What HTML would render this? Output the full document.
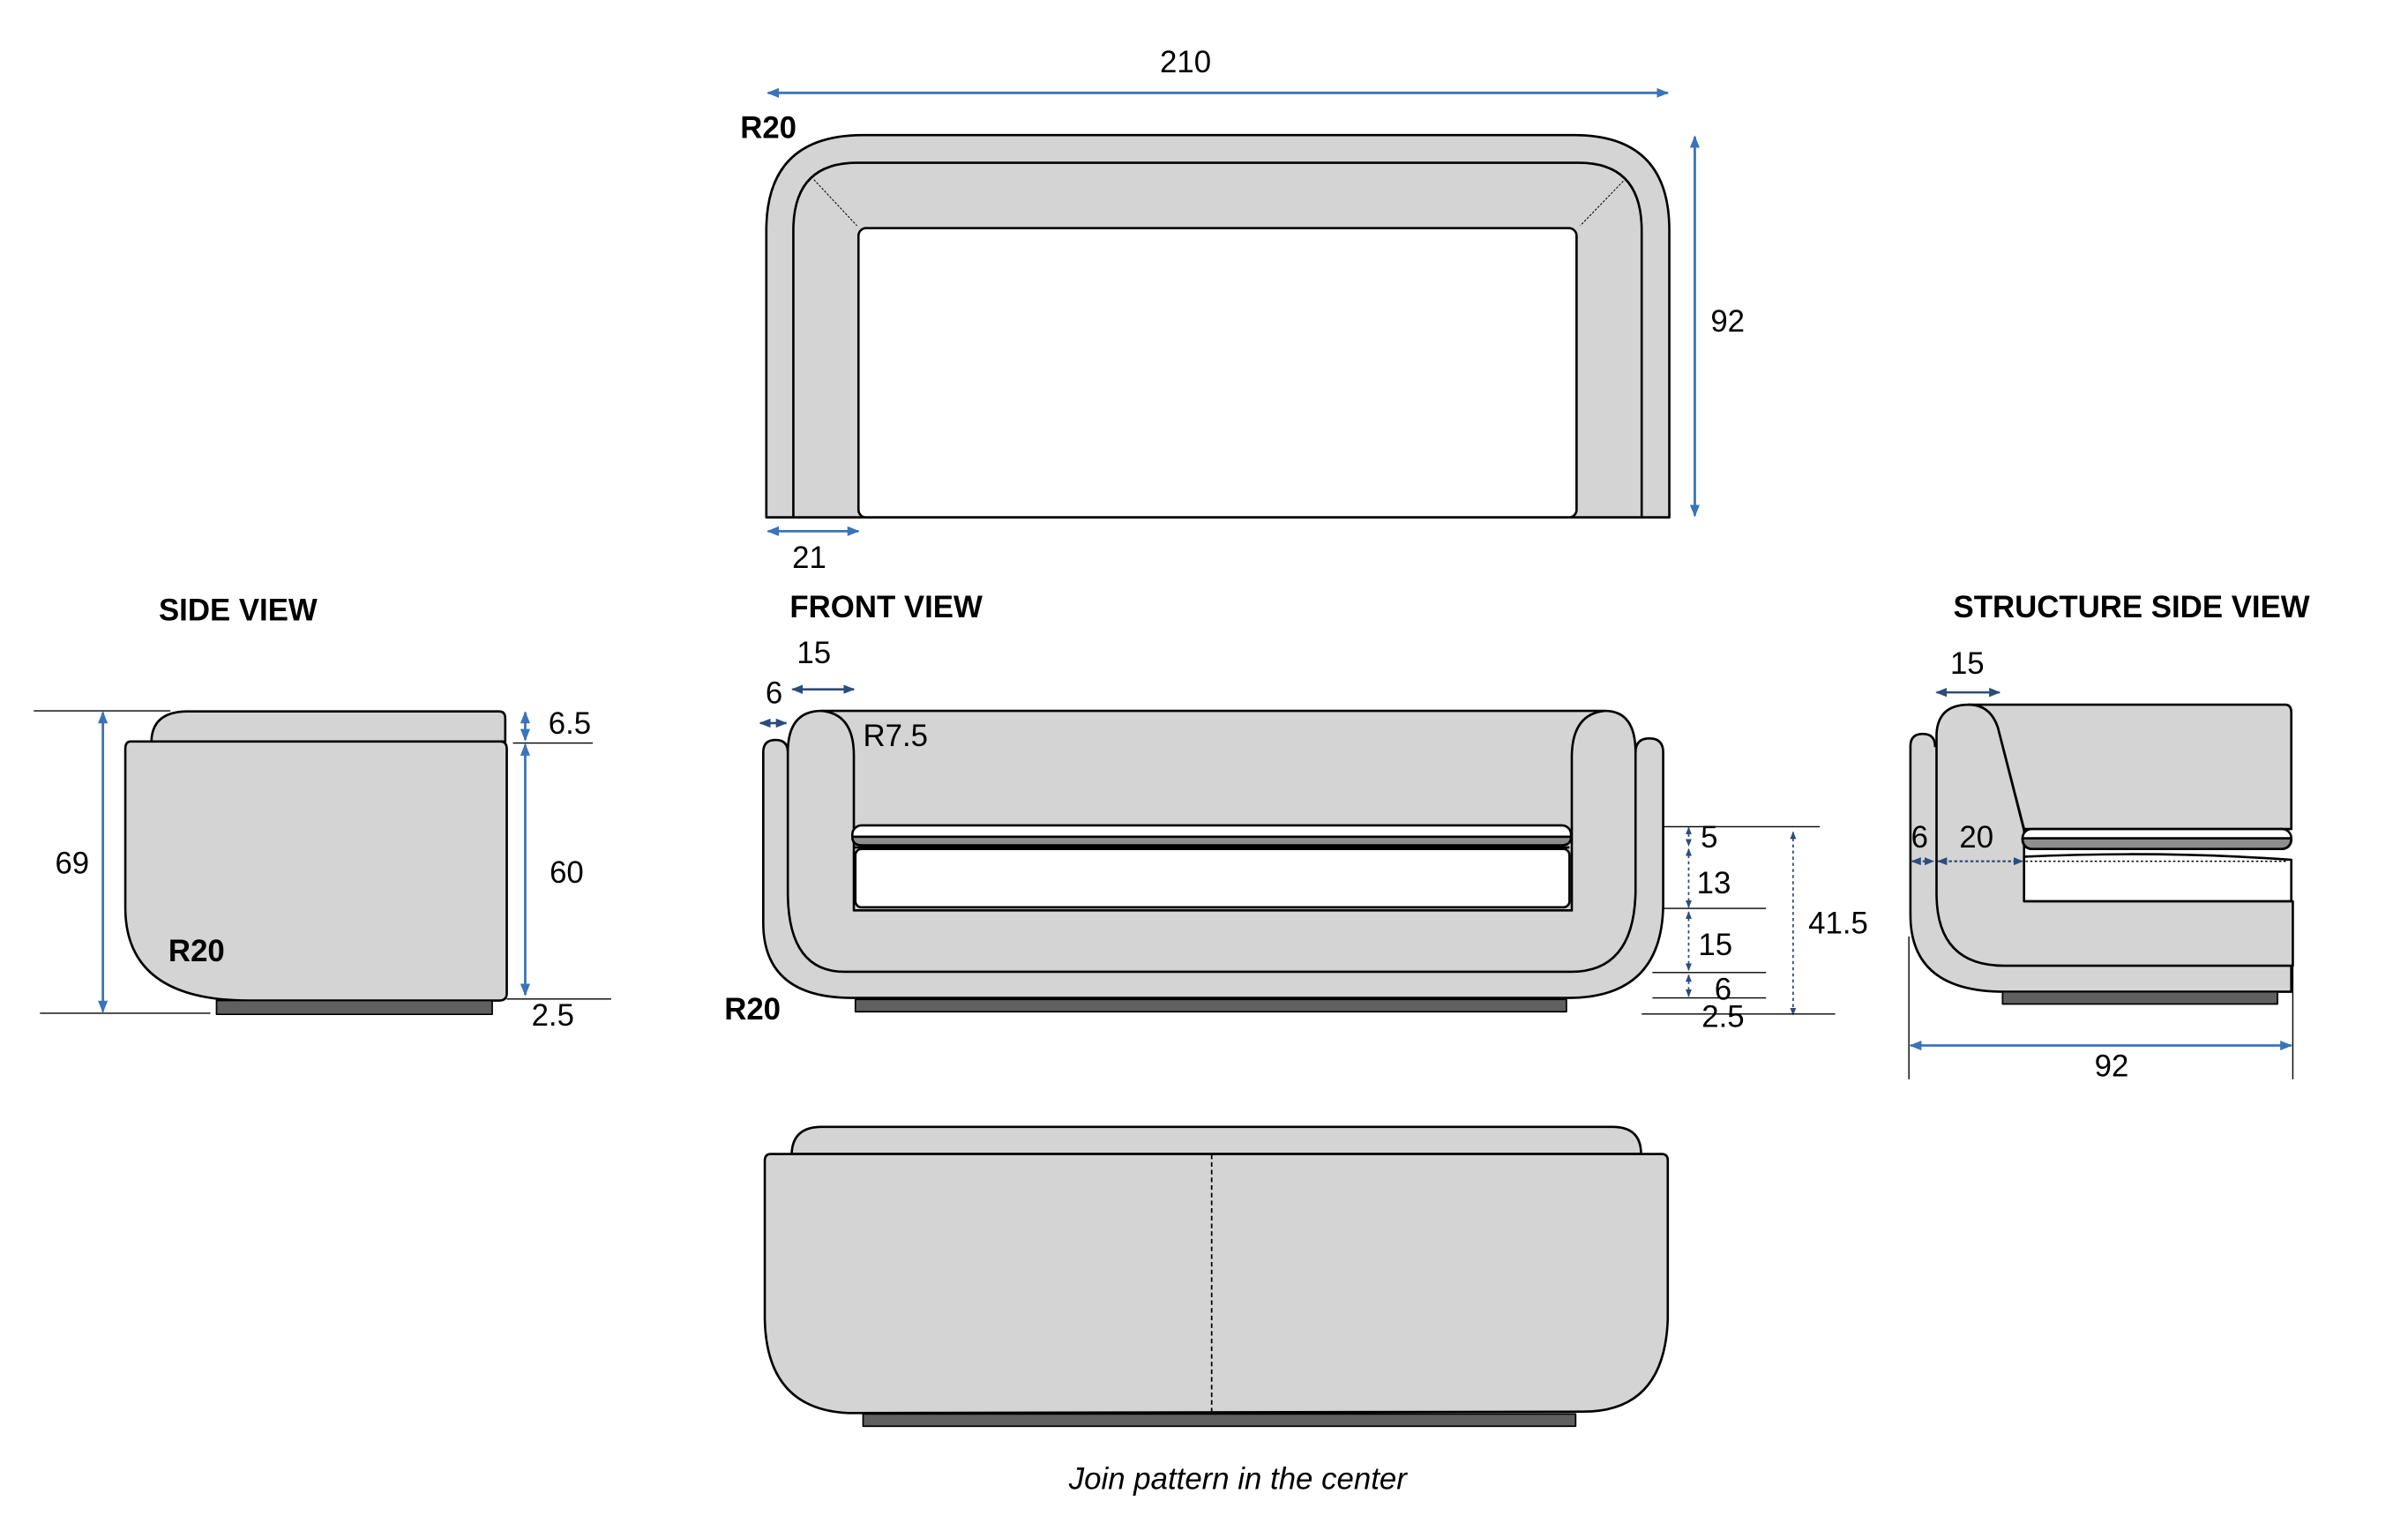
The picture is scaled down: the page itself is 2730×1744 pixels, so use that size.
<!DOCTYPE html>
<html><head><meta charset="utf-8"><style>
html,body{margin:0;padding:0;background:#fff;}
svg{display:block;}
text{font-family:"Liberation Sans",Arial,sans-serif;font-size:20px;fill:#000;}
.b{font-weight:bold;}
</style></head><body>
<svg width="2730" height="1744" viewBox="0 0 1568 1001.8" preserveAspectRatio="none" xmlns="http://www.w3.org/2000/svg">
<defs>
<marker id="a" viewBox="0 0 10 10" refX="9" refY="5" markerWidth="5" markerHeight="5" orient="auto-start-reverse"><path d="M0,1 L10,5 L0,9 Z" fill="#3a74b8"/></marker>
<marker id="n" viewBox="0 0 10 10" refX="9" refY="5" markerWidth="5" markerHeight="5" orient="auto-start-reverse"><path d="M0,1 L10,5 L0,9 Z" fill="#2c4c7c"/></marker>
</defs>
<g stroke="#000" stroke-width="1.5" stroke-linejoin="round">

<!-- TOP VIEW -->
<path d="M499,337 L499,150 Q499,88 562,88 L1025,88 Q1087,88 1087,150 L1087,337 Z" fill="#d4d4d4"/>
<path d="M516.6,337 L516.6,150 Q516.6,106 558,106 L1028,106 Q1069,106 1069,150 L1069,337 Z" fill="#d4d4d4"/>
<rect x="559" y="148.6" width="467.6" height="188.4" rx="5" fill="#fff"/>
<line x1="530" y1="117" x2="558" y2="147" stroke-width="0.6" stroke-dasharray="1.5,1"/>
<line x1="1057" y1="118" x2="1029" y2="147" stroke-width="0.6" stroke-dasharray="1.5,1"/>
<line x1="499" y1="337" x2="1087" y2="337"/>

<!-- SIDE VIEW -->
<path d="M98.6,483 Q99,464 121,463.4 L325,463.4 Q329,463.4 329,468 L329,483 Z" fill="#d4d4d4"/>
<path d="M85,483 L326,483 Q330,483 330,488 L330,647 Q330,651.7 325,651.7 L162,651.7 Q81.6,651.7 81.6,591 L81.6,488 Q81.6,483 85,483 Z" fill="#d4d4d4"/>
<rect x="141" y="651.7" width="179.5" height="9" fill="#606060" stroke-width="1"/>

<!-- FRONT VIEW -->
<path d="M497,490 Q497,482 505,482 Q513,482 513,490 L1065,490 Q1065,481 1074,481 Q1083,481 1083,490 L1083,590 Q1082,650 1021,650 L555,650 Q497,650 497,601 Z" fill="#d4d4d4"/>
<path d="M513,490 Q513,463 535,463 L1045,463 Q1065,463 1065,490 L1065,581 Q1064,633 1023,633 L550,633 Q513,633 513,581 Z" fill="#d4d4d4"/>
<path d="M535,463 Q556,465 556,492 L556,593 L1023.5,593 L1023.5,492 Q1024,465 1045,463" fill="none"/>
<rect x="555" y="537.6" width="468" height="13" rx="6" fill="#fff"/>
<path d="M555,545 L1023,545 Q1023,550.6 1017,550.6 L561,550.6 Q555,550.6 555,545 Z" fill="#8e8e8e"/>
<line x1="556" y1="552" x2="1022" y2="552"/>
<rect x="557" y="553" width="465" height="38" rx="4" fill="#fff"/>
<rect x="557" y="651" width="463" height="8" fill="#606060" stroke-width="1"/>

<!-- STRUCTURE SIDE VIEW -->
<path d="M1244,486 Q1244,478 1252,478 Q1260,478 1260,486 L1300,486 L1300,629 L1492,629 L1492,646 L1305,646 Q1244,646 1244,596 Z" fill="#d4d4d4"/>
<path d="M1261,478 Q1262,459 1282,459 Q1296,459 1301,474 L1318,541 L1318,587 L1493,587 L1493,629 L1305,629 Q1261,629 1261,582 Z" fill="#d4d4d4"/>
<path d="M1282,459 L1488,459 Q1492,459 1492,464 L1492,540 L1318,540 L1301,474 Q1296,459 1282,459 Z" fill="#d4d4d4"/>
<rect x="1317" y="540" width="175" height="13" rx="6" fill="#fff"/>
<path d="M1317,546 L1492,546 Q1492,553 1485,553 L1324,553 Q1317,553 1317,546 Z" fill="#8e8e8e"/>
<path d="M1318,558 Q1405,554 1492,560 L1492,587 L1318,587 Z" fill="#fff"/>
<line x1="1319" y1="561" x2="1490" y2="561" stroke-width="0.8" stroke-dasharray="1.5,1.5"/>
<rect x="1304" y="646" width="179" height="8" fill="#606060" stroke-width="1"/>

<!-- BACK VIEW -->
<path d="M515.5,751.7 Q516,734 535,734 L1050,734 Q1068.6,734 1068.6,751.7 Z" fill="#d4d4d4"/>
<path d="M502,751.7 L1082,751.7 Q1086,751.7 1086,756 L1086,859 Q1084,919.5 1031,919.5 L552.5,920.4 Q499,918 498,859 L498,756 Q498,751.7 502,751.7 Z" fill="#d4d4d4"/>
<line x1="789" y1="752" x2="789" y2="920" stroke-width="1" stroke-dasharray="3,2"/>
<rect x="562" y="921" width="464" height="8" fill="#606060" stroke-width="1"/>
</g>

<!-- dimension lines -->
<g stroke="#3a74b8" stroke-width="1.6" fill="none">
<line x1="500" y1="60.5" x2="1086" y2="60.5" marker-start="url(#a)" marker-end="url(#a)"/>
<line x1="1103.6" y1="89" x2="1103.6" y2="336" marker-start="url(#a)" marker-end="url(#a)"/>
<line x1="500" y1="346" x2="559" y2="346" marker-start="url(#a)" marker-end="url(#a)"/>
<line x1="67" y1="464" x2="67" y2="659" marker-start="url(#a)" marker-end="url(#a)"/>
<line x1="342" y1="464" x2="342" y2="482" marker-start="url(#a)" marker-end="url(#a)"/>
<line x1="342" y1="485" x2="342" y2="648" marker-start="url(#a)" marker-end="url(#a)"/>
<line x1="1244" y1="681" x2="1492" y2="681" marker-start="url(#a)" marker-end="url(#a)"/>
</g>
<g stroke="#2c4c7c" stroke-width="1.5" fill="none">
<line x1="516" y1="449" x2="556" y2="449" marker-start="url(#n)" marker-end="url(#n)"/>
<line x1="1261" y1="451" x2="1302" y2="451" marker-start="url(#n)" marker-end="url(#n)"/>
<line x1="495" y1="471" x2="512" y2="471" marker-start="url(#n)" marker-end="url(#n)"/>
<g stroke-dasharray="2,2" stroke-width="1">
<line x1="1099.6" y1="539" x2="1099.6" y2="551" marker-start="url(#n)" marker-end="url(#n)"/>
<line x1="1099.6" y1="553" x2="1099.6" y2="591" marker-start="url(#n)" marker-end="url(#n)"/>
<line x1="1099.6" y1="594" x2="1099.6" y2="632" marker-start="url(#n)" marker-end="url(#n)"/>
<line x1="1099.6" y1="635" x2="1099.6" y2="649" marker-start="url(#n)" marker-end="url(#n)"/>
<line x1="1167.6" y1="542" x2="1167.6" y2="661" marker-start="url(#n)" marker-end="url(#n)"/>
</g>
<g stroke-dasharray="2,1.5" stroke-width="1.3">
<line x1="1245" y1="561" x2="1259" y2="561" marker-start="url(#n)" marker-end="url(#n)"/>
<line x1="1262" y1="561" x2="1317" y2="561" marker-start="url(#n)" marker-end="url(#n)"/>
</g>
</g>

<!-- extension lines -->
<g stroke="#000" stroke-width="0.8">
<line x1="22" y1="463" x2="111" y2="463"/>
<line x1="26" y1="660" x2="137" y2="660"/>
<line x1="334" y1="484" x2="386" y2="484"/>
<line x1="330" y1="650.7" x2="398" y2="650.7"/>
<line x1="1083" y1="538.5" x2="1185" y2="538.5"/>
<line x1="1083" y1="591.7" x2="1150" y2="591.7"/>
<line x1="1076" y1="633.5" x2="1150" y2="633.5"/>
<line x1="1076" y1="650" x2="1150" y2="650"/>
<line x1="1069" y1="660.5" x2="1195" y2="660.5"/>
<line x1="1243" y1="610" x2="1243" y2="703"/>
<line x1="1493" y1="610" x2="1493" y2="703"/>
</g>

<!-- labels -->
<text x="772" y="47" text-anchor="middle">210</text>
<text x="482" y="90" class="b">R20</text>
<text x="1125" y="216" text-anchor="middle">92</text>
<text x="527" y="370" text-anchor="middle">21</text>
<text x="155" y="404" text-anchor="middle" class="b">SIDE VIEW</text>
<text x="577" y="402" text-anchor="middle" class="b">FRONT VIEW</text>
<text x="1388" y="402" text-anchor="middle" class="b">STRUCTURE SIDE VIEW</text>
<text x="47" y="569" text-anchor="middle">69</text>
<text x="371" y="478" text-anchor="middle">6.5</text>
<text x="369" y="575" text-anchor="middle">60</text>
<text x="360" y="668" text-anchor="middle">2.5</text>
<text x="128" y="626" text-anchor="middle" class="b">R20</text>
<text x="530" y="432" text-anchor="middle">15</text>
<text x="504" y="458" text-anchor="middle">6</text>
<text x="562" y="486">R7.5</text>
<text x="490" y="664" text-anchor="middle" class="b">R20</text>
<text x="1113" y="552" text-anchor="middle">5</text>
<text x="1116" y="582" text-anchor="middle">13</text>
<text x="1117" y="622" text-anchor="middle">15</text>
<text x="1122" y="651" text-anchor="middle">6</text>
<text x="1122" y="669" text-anchor="middle">2.5</text>
<text x="1197" y="608" text-anchor="middle">41.5</text>
<text x="1281" y="439" text-anchor="middle">15</text>
<text x="1250" y="552" text-anchor="middle">6</text>
<text x="1287" y="552" text-anchor="middle">20</text>
<text x="1375" y="701" text-anchor="middle">92</text>
<text x="806" y="970" text-anchor="middle" font-style="italic">Join pattern in the center</text>
</svg>
</body></html>
